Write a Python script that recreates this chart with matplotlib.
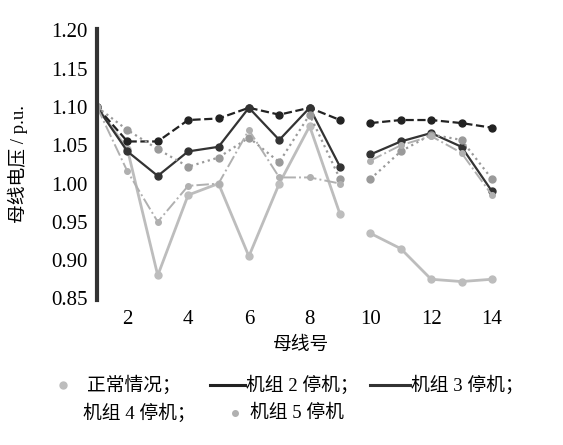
import matplotlib
matplotlib.use("Agg")
import matplotlib.pyplot as plt
from matplotlib.lines import Line2D
import numpy as np

plt.rcParams['font.family'] = ['Liberation Serif', 'Noto Sans CJK SC']

buses = list(range(1, 15))
normal = [1.10, 1.045, 0.880, 0.985, 1.000, 0.905, 1.000, 1.075, 0.960, 0.935, 0.915, 0.875, 0.872, 0.875]
g2 = [1.10, 1.055, 1.055, 1.083, 1.085, 1.099, 1.090, 1.099, 1.083, 1.079, 1.083, 1.083, 1.079, 1.073]
g3 = [1.10, 1.042, 1.010, 1.042, 1.048, 1.099, 1.057, 1.099, 1.022, 1.038, 1.055, 1.066, 1.048, 0.990]
g4 = [1.10, 1.070, 1.045, 1.022, 1.034, 1.060, 1.028, 1.090, 1.006, 1.006, 1.042, 1.064, 1.057, 1.006]
g5 = [1.10, 1.016, 0.950, 0.997, 1.000, 1.070, 1.008, 1.008, 1.000, 1.030, 1.050, 1.062, 1.040, 0.985]

labels = ['正常情况；', '机组 2 停机；', '机组 3 停机；', '机组 4 停机；', '机组 5 停机']
xticks = [2, 4, 6, 8, 10, 12, 14]
yticks = [0.85, 0.90, 0.95, 1.00, 1.05, 1.10, 1.15, 1.20]

styles = [
    dict(color='#bdbdbd', ls='-', lw=2.0, marker='o', ms=5),
    dict(color='#222222', ls='--', lw=1.6, marker='o', ms=5),
    dict(color='#333333', ls='-', lw=1.6, marker='o', ms=5),
    dict(color='#9a9a9a', ls=':', lw=1.6, marker='o', ms=5),
    dict(color='#b0b0b0', ls='-.', lw=1.4, marker='o', ms=4),
]

fig = plt.figure(figsize=(5.63, 4.45), dpi=100)
fig.patch.set_facecolor('white')
ax = fig.add_axes([0.1723, 0.326, 0.723, 0.609])

for data, st in zip([normal, g2, g3, g4, g5], styles):
    ax.plot(buses[:9], data[:9], **st)
    ax.plot(buses[9:], data[9:], **st)

ax.set_xlim(1, 14.4)
ax.set_ylim(0.848, 1.202)
ax.set_xticks(xticks)
ax.set_yticks(yticks)
ax.set_yticklabels([f'{v:.2f}' for v in yticks])
ax.tick_params(axis='both', length=0, labelsize=15, pad=7)
for s in ['top', 'right', 'bottom']:
    ax.spines[s].set_visible(False)
ax.spines['left'].set_color('#333333')
ax.spines['left'].set_linewidth(3)

ax.set_ylabel('母线电压 / p.u.', fontsize=13.5)
ax.yaxis.set_label_coords(-0.17, 0.5)
fig.text(0.535, 1 - 345 / 445, '母线号', fontsize=13.5, ha='center', va='center')

# legend (manual)
row1 = 1 - 385 / 445
row2 = 1 - 413 / 445
entries = [
    (50 / 563, 75 / 563, row1, 87 / 563, 0),
    (210 / 563, 245 / 563, row1, 246 / 563, 1),
    (370 / 563, 410 / 563, row1, 411 / 563, 2),
    (None, None, row2, 83 / 563, 3),
    (225 / 563, 245 / 563, row2, 250 / 563, 4),
]
for x0, x1, y, tx, i in entries:
    if x0 is not None:
        st = styles[i]
        if i in (0, 4):
            fig.add_artist(Line2D([(x0 + x1) / 2], [y], transform=fig.transFigure,
                                  color=st['color'], marker='o', ms=st['ms'], ls='none'))
        else:
            fig.add_artist(Line2D([x0, x1], [y, y], transform=fig.transFigure,
                                  color=st['color'], lw=2.2, ls='-'))
    fig.text(tx, y, labels[i], fontsize=13.5, ha='left', va='center')

fig.savefig('out.png', dpi=100)
